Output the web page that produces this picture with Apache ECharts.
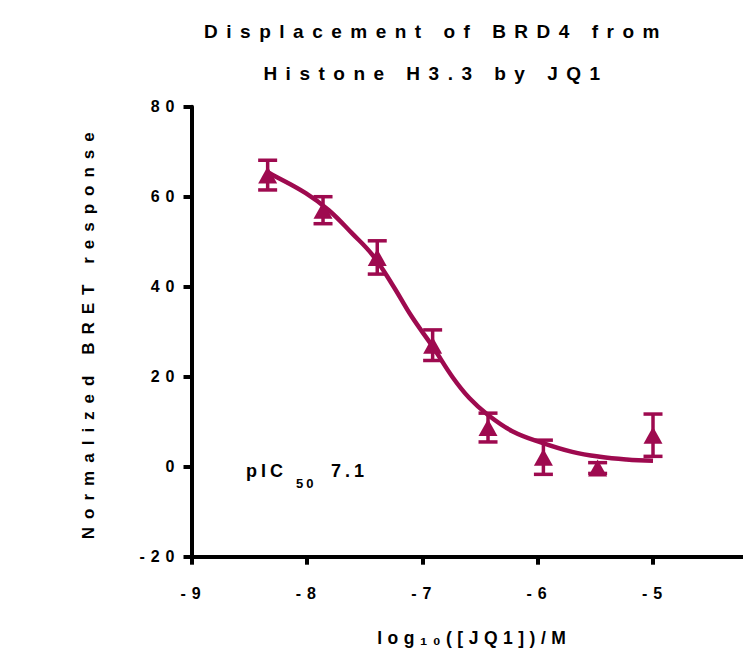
<!DOCTYPE html>
<html>
<head>
<meta charset="utf-8">
<script src="https://cdn.jsdelivr.net/npm/echarts@6/dist/echarts.min.js"></script>
<style>
  html, body { margin: 0; padding: 0; background: #fff; }
  #chart { width: 743px; height: 659px; }
  /* the prism-style wide letter spacing, picked per text role by font size */
  #chart text[style*="19px"] { letter-spacing: 8.5px; }
  #chart text[style*="18px"] { letter-spacing: 4px; }
  #chart text[style*="17px"] { letter-spacing: 8px; }
  #chart text[style*="17.5px"] { letter-spacing: 5.5px; }
  #chart text[style*="16px"] { letter-spacing: 6px; }
  #chart text[style*="13px"] { letter-spacing: 3px; }
</style>
</head>
<body>
<div id="chart"></div>
<script>
// measured points: log10 dose, mean response, error
const doses = [-8.34, -7.86, -7.39, -6.91, -6.43, -5.95, -5.48, -5.0];
const responses = [64.8, 57.0, 46.5, 27.0, 8.7, 2.1, -0.3, 7.0];
const errors = [3.3, 3.0, 3.7, 3.4, 3.2, 3.8, 1.2, 4.7];

// fitted curve
const fitDoses = [-8.34, -8.30, -8.01, -7.81, -7.61, -7.43, -7.26, -7.09, -6.91, -6.74, -6.59, -6.43, -6.22, -5.96, -5.70, -5.46, -5.23, -5.0];
const fitResponses = [65.4, 64.9, 60.8, 57.0, 51.9, 47.0, 40.5, 33.3, 26.7, 20.0, 15.2, 11.5, 7.9, 5.3, 3.3, 2.2, 1.6, 1.3];

const xTicks = [-9, -8, -7, -6, -5];
const yTicks = [-20, 0, 20, 40, 60, 80];

const wine = "#9e0a4f";
const font = "Liberation Sans, Arial, sans-serif";

const chart = echarts.init(document.getElementById("chart"), null, { renderer: "svg" });

// error bar: stem plus two caps
const renderErrorBar = (params, api) => {
  const x = api.value(0);
  const y = api.value(1);
  const e = api.value(2);
  const top = api.coord([x, y + e]);
  const bottom = api.coord([x, y - e]);
  const half = 9.5;
  const style = { stroke: wine, lineWidth: 3.5 };
  return {
    type: "group",
    children: [
      { type: "line", shape: { x1: top[0], y1: top[1], x2: bottom[0], y2: bottom[1] }, style },
      { type: "line", shape: { x1: top[0] - half, y1: top[1], x2: top[0] + half, y2: top[1] }, style },
      { type: "line", shape: { x1: bottom[0] - half, y1: bottom[1], x2: bottom[0] + half, y2: bottom[1] }, style },
    ],
  };
};

const textStyle = { fontFamily: font, fontWeight: "bold", fill: "#000" };

const options = {
  animation: false,
  grid: { left: 191.5, right: 0, top: 106.7, bottom: 102.3 },
  xAxis: {
    type: "value",
    min: -9,
    max: -4.22,
    interval: 1,
    splitLine: { show: false },
    axisLine: { onZero: false, lineStyle: { color: "#000", width: 4 } },
    axisTick: { customValues: xTicks, length: 8, lineStyle: { color: "#000", width: 4 } },
    axisLabel: {
      customValues: xTicks,
      margin: 29,
      color: "#000",
      fontSize: 16,
      fontWeight: "bold",
      fontFamily: font,
      padding: [0, 0, 0, 4],
    },
    name: "log\u2081\u2080([JQ1])/M",
    nameLocation: "middle",
    nameGap: 72,
    nameTextStyle: { color: "#000", fontSize: 17.5, fontWeight: "bold", fontFamily: font, padding: [0, 0, 0, 14] },
  },
  yAxis: {
    type: "value",
    min: -20,
    max: 80,
    interval: 20,
    splitLine: { show: false },
    axisLine: { lineStyle: { color: "#000", width: 4 } },
    axisTick: { customValues: yTicks, length: 8, lineStyle: { color: "#000", width: 4 } },
    axisLabel: {
      customValues: yTicks,
      margin: 11,
      color: "#000",
      fontSize: 16,
      fontWeight: "bold",
      fontFamily: font,
    },
    name: "Normalized BRET response",
    nameLocation: "middle",
    nameRotate: 90,
    nameGap: 95,
    nameTextStyle: { color: "#000", fontSize: 17, fontWeight: "bold", fontFamily: font },
  },
  graphic: [
    { type: "text", x: 436, y: 31, style: { ...textStyle, text: "Displacement of BRD4 from", fontSize: 19, textAlign: "center", textVerticalAlign: "middle" } },
    { type: "text", x: 436, y: 73, style: { ...textStyle, text: "Histone H3.3 by JQ1", fontSize: 19, textAlign: "center", textVerticalAlign: "middle" } },
    { type: "text", x: 246, y: 471, style: { ...textStyle, text: "pIC", fontSize: 18, textVerticalAlign: "middle" } },
    { type: "text", x: 296, y: 483, style: { ...textStyle, text: "50", fontSize: 13, textVerticalAlign: "middle" } },
    { type: "text", x: 331, y: 471, style: { ...textStyle, text: "7.1", fontSize: 18, textVerticalAlign: "middle" } },
  ],
  series: [
    {
      type: "line",
      data: fitDoses.map((d, i) => [d, fitResponses[i]]),
      smooth: 0.4,
      showSymbol: false,
      lineStyle: { color: wine, width: 4.5 },
      z: 3,
    },
    {
      type: "custom",
      data: doses.map((d, i) => [d, responses[i], errors[i]]),
      encode: { x: 0, y: 1 },
      renderItem: renderErrorBar,
      z: 4,
    },
    {
      type: "scatter",
      data: doses.map((d, i) => [d, responses[i]]),
      symbol: "triangle",
      symbolSize: [19, 17],
      itemStyle: { color: wine, opacity: 1 },
      z: 5,
    },
  ],
};

chart.setOption(options);
</script>
</body>
</html>
